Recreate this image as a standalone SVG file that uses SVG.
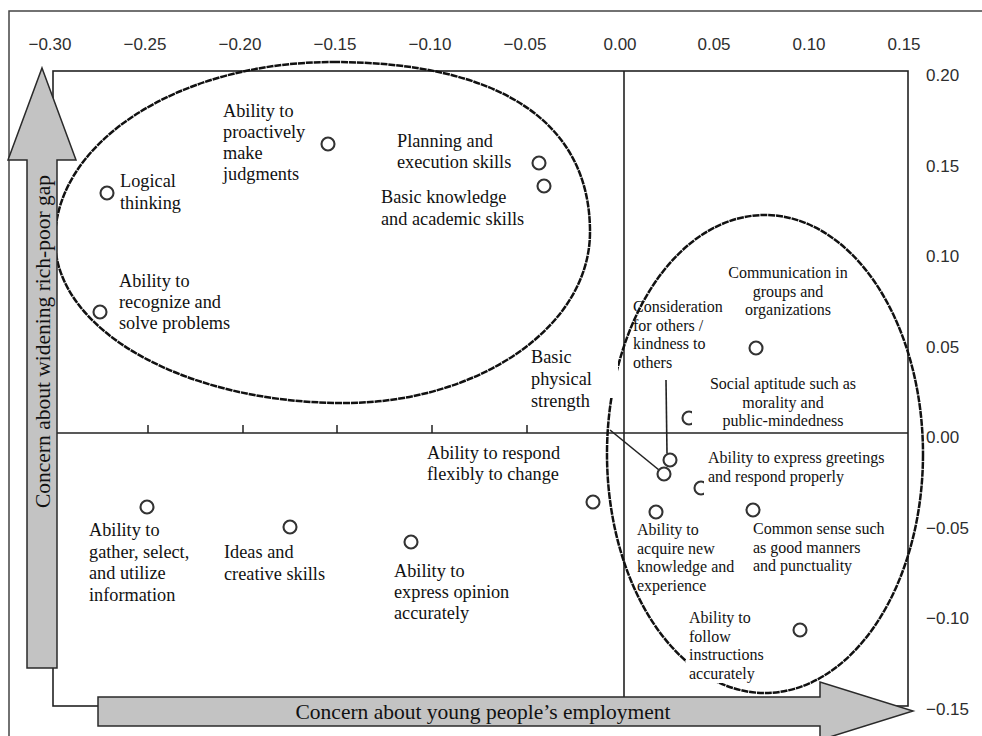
<svg xmlns="http://www.w3.org/2000/svg" width="982" height="736" viewBox="0 0 982 736">
<style>
.frame{fill:none;stroke:#444;stroke-width:1.5}
.box{fill:none;stroke:#222;stroke-width:1.6}
.axis{fill:none;stroke:#222;stroke-width:1.6}
.tick{stroke:#222;stroke-width:1.5}
.tl{font-family:"Liberation Sans",Arial,sans-serif;font-size:17px;fill:#2e2e2e}
.tlm{text-anchor:middle}
.ell{fill:none;stroke:#111;stroke-width:2.5;stroke-dasharray:7 0.9}
.pt{fill:#fff;stroke:#333;stroke-width:2.1}
.lb{font-family:"Liberation Serif","Times New Roman",serif;font-size:18.3px;fill:#111}
.ls{font-family:"Liberation Serif","Times New Roman",serif;font-size:16px;fill:#111}
.mid{text-anchor:middle}
.bg{fill:#fff;stroke:none}
.arr{fill:#c3c3c3;stroke:#2a2a2a;stroke-width:1.5}
.at{font-family:"Liberation Serif","Times New Roman",serif;font-size:21.5px;fill:#111;text-anchor:middle}
.lead{stroke:#222;stroke-width:1.6;fill:none}
</style>

<g id="frame">
<path class="frame" d="M9,736 V11 H982"/>
</g>

<g id="plot-area">
<rect class="box" x="53" y="71" width="855" height="635"/>
<line class="axis" x1="624" y1="71" x2="624" y2="706"/>
<line class="axis" x1="53" y1="433" x2="908" y2="433"/>
<g id="ticks">
<line class="tick" x1="148" y1="425" x2="148" y2="433"/>
<line class="tick" x1="243" y1="425" x2="243" y2="433"/>
<line class="tick" x1="337" y1="425" x2="337" y2="433"/>
<line class="tick" x1="432" y1="425" x2="432" y2="433"/>
<line class="tick" x1="527" y1="425" x2="527" y2="433"/>
</g>
</g>

<g id="x-labels" class="tl tlm">
<text x="50" y="50">−0.30</text>
<text x="145" y="50">−0.25</text>
<text x="240" y="50">−0.20</text>
<text x="335" y="50">−0.15</text>
<text x="430" y="50">−0.10</text>
<text x="525" y="50">−0.05</text>
<text x="620" y="50">0.00</text>
<text x="714" y="50">0.05</text>
<text x="809" y="50">0.10</text>
<text x="904" y="50">0.15</text>
</g>

<g id="y-labels" class="tl">
<text x="926" y="81">0.20</text>
<text x="926" y="171.5">0.15</text>
<text x="926" y="262">0.10</text>
<text x="926" y="353">0.05</text>
<text x="926" y="443">0.00</text>
<text x="926" y="534">−0.05</text>
<text x="926" y="624">−0.10</text>
<text x="926" y="715">−0.15</text>
</g>

<g id="clusters">
<path id="cluster-left" class="ell" d="M333,62 C500,62 590,122 590,232 C590,326 480,403 344,403 C184,403 55,330 55,240 C55,142 179,62 333,62 Z"/>
<ellipse id="cluster-right" class="ell" cx="765" cy="454" rx="158" ry="239"/>
</g>

<g id="connectors">
<line class="lead" x1="610" y1="430" x2="659" y2="470"/>
<line class="lead" x1="666" y1="380" x2="667" y2="453.5"/>
</g>

<g id="node-logical-thinking">
<circle class="pt" cx="107" cy="193" r="6.5"/>
<text class="lb" x="120" y="187">Logical</text>
<text class="lb" x="120" y="208.5">thinking</text>
</g>

<g id="node-proactive-judgments">
<circle class="pt" cx="328" cy="144" r="6.5"/>
<text class="lb" x="223" y="117">Ability to</text>
<text class="lb" x="223" y="138">proactively</text>
<text class="lb" x="223" y="159">make</text>
<text class="lb" x="223" y="180">judgments</text>
</g>

<g id="node-planning">
<circle class="pt" cx="539" cy="163" r="6.5"/>
<text class="lb" x="397" y="147">Planning and</text>
<text class="lb" x="397" y="168">execution skills</text>
</g>

<g id="node-basic-knowledge">
<circle class="pt" cx="544" cy="186" r="6.5"/>
<text class="lb" x="381" y="203">Basic knowledge</text>
<text class="lb" x="381" y="225">and academic skills</text>
</g>

<g id="node-recognize-problems">
<circle class="pt" cx="100" cy="312" r="6.5"/>
<text class="lb" x="119" y="287">Ability to</text>
<text class="lb" x="119" y="308">recognize and</text>
<text class="lb" x="119" y="329">solve problems</text>
</g>

<g id="node-physical-strength">
<rect class="bg" x="528" y="346" width="90" height="52"/>
<text class="lb" x="531" y="363">Basic</text>
<text class="lb" x="531" y="385">physical</text>
<text class="lb" x="531" y="407">strength</text>
<circle class="pt" cx="664" cy="474" r="6.5"/>
</g>

<g id="node-respond-flexibly">
<circle class="pt" cx="593" cy="502" r="6.5"/>
<text class="lb" x="427" y="459">Ability to respond</text>
<text class="lb" x="427" y="480">flexibly to change</text>
</g>

<g id="node-gather-information">
<circle class="pt" cx="147" cy="507" r="6.5"/>
<text class="lb" x="89" y="536">Ability to</text>
<text class="lb" x="89" y="557.5">gather, select,</text>
<text class="lb" x="89" y="579">and utilize</text>
<text class="lb" x="89" y="600.5">information</text>
</g>

<g id="node-ideas-creative">
<circle class="pt" cx="290" cy="527" r="6.5"/>
<text class="lb" x="224" y="558">Ideas and</text>
<text class="lb" x="224" y="580">creative skills</text>
</g>

<g id="node-express-opinion">
<circle class="pt" cx="411" cy="542" r="6.5"/>
<text class="lb" x="394" y="577">Ability to</text>
<text class="lb" x="394" y="598">express opinion</text>
<text class="lb" x="394" y="619">accurately</text>
</g>

<g id="node-communication">
<circle class="pt" cx="756" cy="348" r="6.5"/>
<text class="ls mid" x="788" y="278">Communication in</text>
<text class="ls mid" x="788" y="296.5">groups and</text>
<text class="ls mid" x="788" y="315">organizations</text>
</g>

<g id="node-consideration">
<circle class="pt" cx="670" cy="460" r="6.5"/>
<text class="ls" x="633" y="312">Consideration</text>
<text class="ls" x="633" y="330.5">for others /</text>
<text class="ls" x="633" y="349">kindness to</text>
<text class="ls" x="633" y="367.5">others</text>
</g>

<g id="node-social-aptitude">
<circle class="pt" cx="689" cy="418" r="6.5"/>
<rect class="bg" x="692" y="372" width="175" height="57"/>
<text class="ls mid" x="783" y="389">Social aptitude such as</text>
<text class="ls mid" x="783" y="407.5">morality and</text>
<text class="ls mid" x="783" y="426">public-mindedness</text>
</g>

<g id="node-greetings">
<circle class="pt" cx="701" cy="488" r="6.5"/>
<rect class="bg" x="704" y="447" width="186" height="52"/>
<text class="ls" x="708" y="463">Ability to express greetings</text>
<text class="ls" x="708" y="482">and respond properly</text>
</g>

<g id="node-acquire-knowledge">
<circle class="pt" cx="656" cy="512" r="6.5"/>
<text class="ls" x="637" y="535">Ability to</text>
<text class="ls" x="637" y="553.5">acquire new</text>
<text class="ls" x="637" y="572">knowledge and</text>
<text class="ls" x="637" y="590.5">experience</text>
</g>

<g id="node-common-sense">
<circle class="pt" cx="753" cy="510" r="6.5"/>
<text class="ls" x="753" y="534">Common sense such</text>
<text class="ls" x="753" y="552.5">as good manners</text>
<text class="ls" x="753" y="571">and punctuality</text>
</g>

<g id="node-follow-instructions">
<rect class="bg" x="686" y="606" width="104" height="77"/>
<circle class="pt" cx="800" cy="630" r="6.5"/>
<text class="ls" x="689" y="623">Ability to</text>
<text class="ls" x="689" y="641.5">follow</text>
<text class="ls" x="689" y="660">instructions</text>
<text class="ls" x="689" y="678.5">accurately</text>
</g>

<g id="arrow-vertical">
<polygon class="arr" points="42,68 76,160 57,160 57,668 27,668 27,160 8,160"/>
<text class="at" transform="translate(50,341.5) rotate(-90)" x="0" y="0">Concern about widening rich-poor gap</text>
</g>

<g id="arrow-horizontal">
<polygon class="arr" points="98,697 820,697 820,682 913,711 820,740 820,726 98,726"/>
<text class="at" x="483" y="719">Concern about young people’s employment</text>
</g>
</svg>
